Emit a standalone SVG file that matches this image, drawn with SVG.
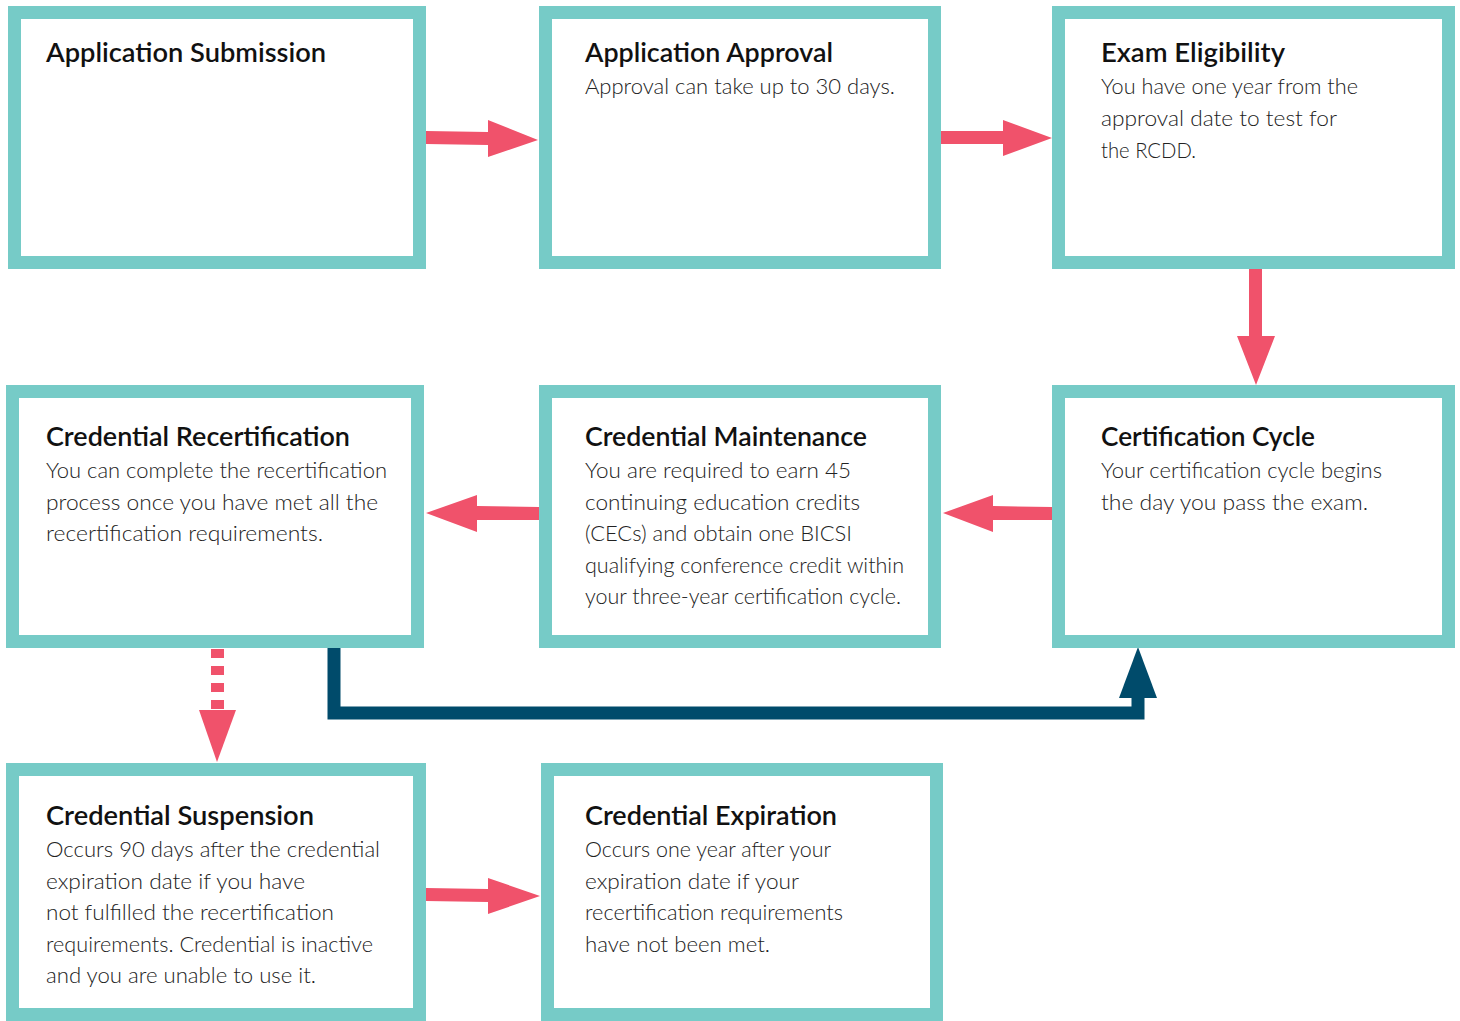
<svg xmlns="http://www.w3.org/2000/svg" width="1460" height="1021" viewBox="0 0 1460 1021">
<style>
.box{fill:#fff;stroke:#76CBC7;stroke-width:13}
.t{font-family:Lato,"Liberation Sans",sans-serif;font-size:27px;font-weight:600;fill:#111}
.b{font-family:Lato,"Liberation Sans",sans-serif;font-size:22px;font-weight:300;fill:#222}
.pk{fill:#F0526B}
.dk{fill:#004B6B}
</style>
<rect width="1460" height="1021" fill="#fff"/>
<g id="connectors">
  <g id="c1"><polygon class="pk" points="426,131 488,132 488,120 538,140 488,157 488,145 426,144"/></g>
  <g id="c2"><polygon class="pk" points="941,131 1003,131 1003,120 1052,138 1003,156 1003,144 941,144"/></g>
  <g id="c3"><polygon class="pk" points="1249,269 1262,269 1262,336 1275,336 1256,385 1237,336 1249,336"/></g>
  <g id="c4"><polygon class="pk" points="539,507 477,506 477,495 426,513 477,532 477,520 539,520"/></g>
  <g id="c5"><polygon class="pk" points="1052,507 993,506 993,495 943,513 993,532 993,520 1052,520"/></g>
  <g id="c6">
    <line x1="217.5" y1="649" x2="217.5" y2="711" stroke="#F0526B" stroke-width="13" stroke-dasharray="9 8"/>
    <polygon class="pk" points="199,710 236,710 217,762"/>
  </g>
  <g id="c7">
    <path d="M334,648 V713 H1138 V697" fill="none" stroke="#004B6B" stroke-width="13"/>
    <polygon class="dk" points="1119,698 1157,698 1138,647"/>
  </g>
  <g id="c8"><polygon class="pk" points="426,888 488,889 488,878 540,896 488,914 488,902 426,901"/></g>
</g>
<g id="n1">
  <rect class="box" x="14.5" y="12.5" width="405" height="250"/>
  <text class="t" x="46" y="62" textLength="280" lengthAdjust="spacingAndGlyphs">Application Submission</text>
</g>
<g id="n2">
  <rect class="box" x="545.5" y="12.5" width="389" height="250"/>
  <text class="t" x="585" y="62" textLength="248" lengthAdjust="spacingAndGlyphs">Application Approval</text>
  <text class="b" x="585" y="94" textLength="310" lengthAdjust="spacingAndGlyphs">Approval can take up to 30 days.</text>
</g>
<g id="n3">
  <rect class="box" x="1058.5" y="12.5" width="390" height="250"/>
  <text class="t" x="1101" y="62" textLength="184" lengthAdjust="spacingAndGlyphs">Exam Eligibility</text>
  <text class="b" x="1101" y="94" textLength="257" lengthAdjust="spacingAndGlyphs">You have one year from the</text>
  <text class="b" x="1101" y="126" textLength="236" lengthAdjust="spacingAndGlyphs">approval date to test for</text>
  <text class="b" x="1101" y="157.5" textLength="95" lengthAdjust="spacingAndGlyphs">the RCDD.</text>
</g>
<g id="n4">
  <rect class="box" x="12.5" y="391.5" width="405" height="250"/>
  <text class="t" x="46" y="446" textLength="304" lengthAdjust="spacingAndGlyphs">Credential Recertification</text>
  <text class="b" x="46" y="478" textLength="341" lengthAdjust="spacingAndGlyphs">You can complete the recertification</text>
  <text class="b" x="46" y="509.5" textLength="332" lengthAdjust="spacingAndGlyphs">process once you have met all the</text>
  <text class="b" x="46" y="541" textLength="277" lengthAdjust="spacingAndGlyphs">recertification requirements.</text>
</g>
<g id="n5">
  <rect class="box" x="545.5" y="391.5" width="389" height="250"/>
  <text class="t" x="585" y="446" textLength="282" lengthAdjust="spacingAndGlyphs">Credential Maintenance</text>
  <text class="b" x="585" y="478" textLength="266" lengthAdjust="spacingAndGlyphs">You are required to earn 45</text>
  <text class="b" x="585" y="509.5" textLength="275" lengthAdjust="spacingAndGlyphs">continuing education credits</text>
  <text class="b" x="585" y="541" textLength="267" lengthAdjust="spacingAndGlyphs">(CECs) and obtain one BICSI</text>
  <text class="b" x="585" y="572.5" textLength="319" lengthAdjust="spacingAndGlyphs">qualifying conference credit within</text>
  <text class="b" x="585" y="604" textLength="316" lengthAdjust="spacingAndGlyphs">your three-year certification cycle.</text>
</g>
<g id="n6">
  <rect class="box" x="1058.5" y="391.5" width="390" height="250"/>
  <text class="t" x="1101" y="446" textLength="214" lengthAdjust="spacingAndGlyphs">Certification Cycle</text>
  <text class="b" x="1101" y="478" textLength="281" lengthAdjust="spacingAndGlyphs">Your certification cycle begins</text>
  <text class="b" x="1101" y="509.5" textLength="267" lengthAdjust="spacingAndGlyphs">the day you pass the exam.</text>
</g>
<g id="n7">
  <rect class="box" x="12.5" y="769.5" width="407" height="245"/>
  <text class="t" x="46" y="825" textLength="268" lengthAdjust="spacingAndGlyphs">Credential Suspension</text>
  <text class="b" x="46" y="857" textLength="334" lengthAdjust="spacingAndGlyphs">Occurs 90 days after the credential</text>
  <text class="b" x="46" y="888.5" textLength="259" lengthAdjust="spacingAndGlyphs">expiration date if you have</text>
  <text class="b" x="46" y="920" textLength="288" lengthAdjust="spacingAndGlyphs">not fulfilled the recertification</text>
  <text class="b" x="46" y="951.5" textLength="327" lengthAdjust="spacingAndGlyphs">requirements. Credential is inactive</text>
  <text class="b" x="46" y="983" textLength="270" lengthAdjust="spacingAndGlyphs">and you are unable to use it.</text>
</g>
<g id="n8">
  <rect class="box" x="547.5" y="769.5" width="389" height="245"/>
  <text class="t" x="585" y="825" textLength="252" lengthAdjust="spacingAndGlyphs">Credential Expiration</text>
  <text class="b" x="585" y="857" textLength="246" lengthAdjust="spacingAndGlyphs">Occurs one year after your</text>
  <text class="b" x="585" y="888.5" textLength="214" lengthAdjust="spacingAndGlyphs">expiration date if your</text>
  <text class="b" x="585" y="920" textLength="258" lengthAdjust="spacingAndGlyphs">recertification requirements</text>
  <text class="b" x="585" y="951.5" textLength="185" lengthAdjust="spacingAndGlyphs">have not been met.</text>
</g>
</svg>
